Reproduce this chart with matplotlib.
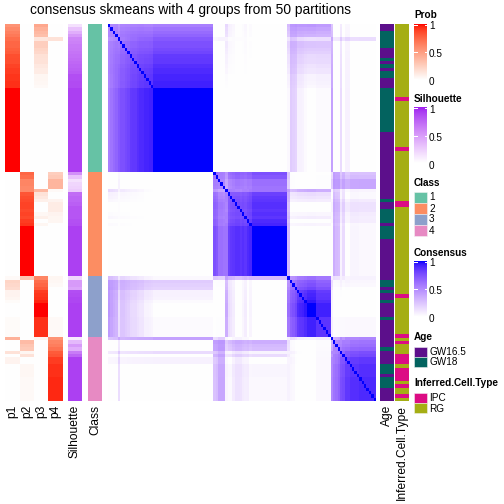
import numpy as np
import matplotlib
matplotlib.use("Agg")
import matplotlib.pyplot as plt
from matplotlib.colors import ListedColormap
from matplotlib.patches import Rectangle

plt.rcParams['font.family'] = ['Liberation Sans', 'DejaVu Sans']

# ---------------- data (one entry per sample, ordered as in the heatmap) -------------
class_sizes = [44, 31, 18, 19]
class_labels = ["1", "2", "3", "4"]

p1 = ([.55, .6, .64, .67, .72, .75, .75, .78, .8, .84, .85, .85, .88, .9, .9, .92, .92, .93, .93] + [1.0] * 25
      + [0.0] * 31
      + [.03, .22, .2, .18, .06, .06, .05, .02, 0, 0, 0, 0, .02, .02, .02, .02, .02, .02]
      + [.4, 0, 0, 0, .15, 0, .06, .06] + [0.0] * 11)
p2 = ([0.0] * 44
      + [.75, .72, .62, .62, .6, .6, .82, .85, .86, .88, .88, .86, .88, .86, .9, .92] + [1.0] * 15
      + [.3] + [0.0] * 17
      + [0, .35, .3, .28, .05, .15, 0, 0] + [.04] * 4 + [.03] * 7)
p3 = ([.45, .4, .36, .33, .13, .25, .25, .22, .2, .16, .15, .15, .12, .1, .1, .05, .05, .04, .03] + [0.0] * 25
      + [0, 0, 0, 0, 0, .37, .15, .12, .08, 0, 0, 0, .04, .08, 0, .05] + [0.0] * 15
      + [.62, .72, .75, .8, .9, .92, .93, .96, 1, 1, 1, 1, .93, .93, .93, .93, .93, .93]
      + [.05] + [0.0] * 18)
p4 = ([0, 0, 0, 0, .15] + [0.0] * 39
      + [.25, .28, .38, .38, .38, .03, 0, 0, .06, .1, .1, .1, .06, .05, .05, 0] + [0.0] * 15
      + [.05, .04, .03, 0, 0, 0, 0, 0, 0, 0, 0, 0, .03, .03, .03, .03, .03, .03]
      + [.55, .62, .65, .7, .8, .82, .9, .9] + [.93] * 4 + [.95] * 7)
silhouette = ([.15, .3, .4, .5, .6, .62, .65, .66, .68, .7, .72, .74, .76, .78, .8, .85, .85, .86, .86] + [.9] * 25
              + [.55, .3, .15, .2, .22, .26, .72, .75, .75, .78, .82, .82, .82, .82, .84, .85] + [.9] * 15
              + [.2, .5, .5, .45, .85, .86, .88, .88] + [.9] * 10
              + [.1, .35, .5, .4, .65, .75] + [.9] * 13)

age_runs = [("GW16.5", 2), ("GW18", 5), ("GW16.5", 3), ("GW18", 1), ("GW16.5", 1), ("GW18", 1),
            ("GW16.5", 1), ("GW18", 2), ("GW16.5", 3), ("GW18", 13), ("GW16.5", 20), ("GW18", 1),
            ("GW16.5", 2), ("GW18", 4), ("GW16.5", 1), ("GW18", 4), ("GW16.5", 12), ("GW18", 2),
            ("GW16.5", 1), ("GW18", 1), ("GW16.5", 2), ("GW18", 1), ("GW16.5", 4), ("GW18", 1),
            ("GW16.5", 8), ("GW18", 1), ("GW16.5", 4), ("GW18", 3), ("GW16.5", 1), ("GW18", 3),
            ("GW16.5", 4)]
cell_runs = [("RG", 22), ("IPC", 1), ("RG", 14), ("IPC", 1), ("RG", 15), ("IPC", 2), ("RG", 26),
             ("IPC", 1), ("RG", 11), ("IPC", 1), ("RG", 1), ("IPC", 1), ("RG", 3), ("IPC", 3),
             ("RG", 1), ("IPC", 4), ("RG", 1), ("IPC", 1), ("RG", 2), ("IPC", 1), ("RG", 1)]

title = "consensus skmeans with 4 groups from 50 partitions"

# ---------------- colours ----------------
class_colors = {"1": "#66C2A5", "2": "#FC8D62", "3": "#8DA0CB", "4": "#E78AC3"}
age_colors = {"GW16.5": "#5C0F8B", "GW18": "#03635F"}
cell_colors = {"IPC": "#DC0C84", "RG": "#A5AE14"}

M = np.array([[0.4124564, 0.3575761, 0.1804375],
              [0.2126729, 0.7151522, 0.0721750],
              [0.0193339, 0.1191920, 0.9503041]])
WHITE = np.array([0.95047, 1.0, 1.08883])


def srgb_to_lab(rgb):
    rgb = np.asarray(rgb, float)
    lin = np.where(rgb <= 0.04045, rgb / 12.92, ((rgb + 0.055) / 1.055) ** 2.4)
    t = (lin @ M.T) / WHITE
    f = np.where(t > (6 / 29) ** 3, np.cbrt(t), t / (3 * (6 / 29) ** 2) + 4 / 29)
    return np.stack([116 * f[..., 1] - 16, 500 * (f[..., 0] - f[..., 1]), 200 * (f[..., 1] - f[..., 2])], -1)


def lab_to_srgb(lab):
    fy = (lab[..., 0] + 16) / 116
    f = np.stack([fy + lab[..., 1] / 500, fy, fy - lab[..., 2] / 200], -1)
    t = np.where(f > 6 / 29, f ** 3, 3 * (6 / 29) ** 2 * (f - 4 / 29))
    lin = np.clip((t * WHITE) @ np.linalg.inv(M).T, 0, 1)
    return np.clip(np.where(lin <= 0.0031308, 12.92 * lin, 1.055 * lin ** (1 / 2.4) - 0.055), 0, 1)


def lab_ramp(c0, c1):
    l0, l1 = srgb_to_lab(c0), srgb_to_lab(c1)
    t = np.linspace(0, 1, 256)[:, None]
    return ListedColormap(lab_to_srgb(l0 + t * (l1 - l0)))


cm_prob = lab_ramp([1, 1, 1], [1, 0, 0])
cm_sil = lab_ramp([1, 1, 1], [160 / 255, 32 / 255, 240 / 255])
cm_cons = lab_ramp([1, 1, 1], [0, 0, 1])

# ---------------- derived ----------------
P = np.column_stack([p1, p2, p3, p4])
N = P.shape[0]
consensus = np.clip(P @ P.T, 0, 1)
np.fill_diagonal(consensus, 1.0)
classes = sum(([lab] * n for lab, n in zip(class_labels, class_sizes)), [])
age = sum(([v] * n for v, n in age_runs), [])
cell = sum(([v] * n for v, n in cell_runs), [])

# ---------------- figure ----------------
fig = plt.figure(figsize=(7, 7), dpi=72)
ax = fig.add_axes([0, 0, 1, 1])
ax.set_xlim(0, 504)
ax.set_ylim(504, 0)
ax.axis('off')

TOP, BOT = 24, 401


def col_img(vals, cmap, x0, x1):
    ax.imshow(np.asarray(vals, float)[:, None], cmap=cmap, vmin=0, vmax=1, aspect='auto',
              interpolation='nearest', extent=[x0, x1, BOT, TOP])


def cat_img(vals, cmap_dict, x0, x1):
    rgb = np.array([matplotlib.colors.to_rgb(cmap_dict[v]) for v in vals])[:, None, :]
    ax.imshow(rgb, aspect='auto', interpolation='nearest', extent=[x0, x1, BOT, TOP])


left_cols = [("p1", p1, 5, 20), ("p2", p2, 20, 34.3), ("p3", p3, 34.3, 48.3), ("p4", p4, 48.3, 62.5)]
for name, vals, x0, x1 in left_cols:
    col_img(vals, cm_prob, x0, x1)
col_img(silhouette, cm_sil, 68, 82)
cat_img(classes, class_colors, 88, 102)
ax.imshow(consensus, cmap=cm_cons, vmin=0, vmax=1, aspect='auto', interpolation='nearest',
          extent=[108, 375.5, BOT, TOP])
cat_img(age, age_colors, 380, 394)
cat_img(cell, cell_colors, 395.3, 409)

labels = [("p1", 12.5), ("p2", 27.2), ("p3", 41.3), ("p4", 55.4), ("Silhouette", 75), ("Class", 95),
          ("Age", 387), ("Inferred.Cell.Type", 402)]
for lab, xc in labels:
    ax.text(xc, 405, lab, rotation=90, ha='center', va='top', fontsize=12)

ax.text(191, 10, title, ha='center', va='center', fontsize=13.8)

# ---------------- legends ----------------
LX = 414


def colorbar_legend(name, cmap, ytitle, y0):
    ax.text(LX, ytitle, name, fontsize=10, fontweight='bold', ha='left', va='center')
    h = 56
    ax.imshow(np.linspace(1, 0, 100)[:, None], cmap=cmap, vmin=0, vmax=1, aspect='auto',
              extent=[LX, LX + 13, y0 + h, y0])
    for v, lab in [(1, "1"), (0.5, "0.5"), (0, "0")]:
        yy = y0 + (1 - v) * h
        yy_t = min(max(yy, y0 + 0.7), y0 + h - 0.7)
        ax.plot([LX, LX + 2.5], [yy_t, yy_t], color='white', lw=1)
        ax.plot([LX + 10.5, LX + 13], [yy_t, yy_t], color='white', lw=1)
        ax.text(LX + 15, yy + 2.3, lab, fontsize=10, ha='left', va='center')


def discrete_legend(name, items, colors, ytitle, y0, step):
    ax.text(LX, ytitle, name, fontsize=10, fontweight='bold', ha='left', va='center')
    for i, it in enumerate(items):
        ax.add_patch(Rectangle((LX, y0 + i * step), 12.5, step, facecolor=colors[it],
                               edgecolor='#f4f4f4', lw=0.5))
        ax.text(LX + 15, y0 + i * step + step / 2 + 0.5, it, fontsize=10, ha='left', va='center')


colorbar_legend("Prob", cm_prob, 15, 24)
colorbar_legend("Silhouette", cm_sil, 99.5, 107.5)
discrete_legend("Class", class_labels, class_colors, 183, 191.5, 11)
colorbar_legend("Consensus", cm_cons, 252.5, 261)
discrete_legend("Age", ["GW16.5", "GW18"], age_colors, 337, 346.5, 10.3)
discrete_legend("Inferred.Cell.Type", ["IPC", "RG"], cell_colors, 383.5, 392.8, 10.3)

fig.savefig("out.png", dpi=72)
